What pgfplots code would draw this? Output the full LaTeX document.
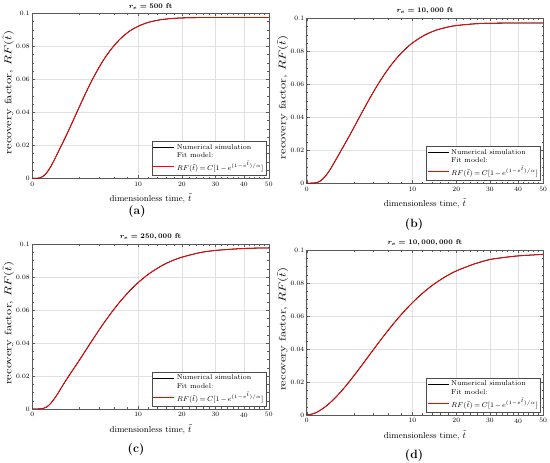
\documentclass[border=0pt]{standalone}
\usepackage{pgfplots}
\pgfplotsset{compat=1.18}
\usepackage{pgfplotstable}
\usepackage{amsmath,bm}

% t = dimensionless time, rf = recovery factor;
% the x axis is drawn on a square-root scale
\pgfplotstableread{
t rf
0 0
0.05 0.00024
0.15 0.00231
0.3 0.00693
0.5 0.01317
0.76 0.0200
1.0 0.0253
1.3 0.03136
1.76 0.03974
2.2 0.04671
2.7 0.0536
3.25 0.0601
4.0 0.0674
4.8 0.0736
5.85 0.0798
7 0.0848
8.5 0.0893
10 0.0921
12 0.09446
14.5 0.09601
17 0.09676
20 0.09719
25 0.09742
30 0.09748
40 0.0975
50 0.0975
}\dataA

\pgfplotstableread{
t rf
0 0
0.1 0.00049
0.25 0.00296
0.48 0.0081
0.8 0.0151
1.16 0.02161
1.6 0.02835
2.1 0.03524
2.7 0.04256
3.4 0.04999
4.2 0.05723
5.2 0.0647
6.4 0.07183
8 0.07895
10 0.08508
12.5 0.0899
15 0.09282
18 0.09481
20 0.0956
25 0.09662
30 0.09699
40 0.09717
50 0.0972
}\dataB

\pgfplotstableread{
t rf
0 0
0.1 0.00028
0.25 0.00232
0.5 0.00759
0.8 0.01376
1.2 0.02015
1.7 0.0264
2.3 0.0330
2.95 0.0393
3.8 0.04645
4.6 0.05223
5.6 0.05845
6.8 0.06466
8.2 0.07057
10 0.07654
12.2 0.0820
15 0.08687
17.5 0.08988
20 0.0920
25 0.09471
30 0.0961
40 0.09729
50 0.09764
}\dataC

\pgfplotstableread{
t rf
0 0
0.03 0.00062
0.12 0.00215
0.35 0.00553
0.7 0.01007
1.1 0.01472
1.6 0.0200
2.3 0.02658
3.0 0.03242
4.0 0.03976
5.0 0.04613
6.2 0.05271
7.66 0.0595
9 0.06471
10.5 0.06966
12.5 0.07504
14.86 0.0800
17.5 0.08426
20 0.0873
25 0.09146
30 0.09423
35 0.0955
40 0.09643
50 0.09737
}\dataD

\pgfplotsset{
  rfax/.style={
    scale only axis,
    width=236.5pt, height=165pt,
    xmin=0, xmax=7.0711, ymin=0, ymax=0.1,
    xtick={0,3.1623,4.4721,5.4772,6.3246,7.0711},
    xticklabels={0,10,20,30,40,50},
    minor xtick={1.4142,2,2.4495,2.8284,3.4641,3.7417,4,4.2426,4.6904,4.899,5.099,5.2915,5.6569,5.831,6,6.1644,6.4807,6.6332,6.7823,6.9282},
    ytick={0,0.02,0.04,0.06,0.08,0.1},
    yticklabels={0,0.02,0.04,0.06,0.08,0.1},
    scaled y ticks=false,
    minor y tick num=3,
    xtick pos=both, ytick pos=both,
    tick align=inside,
    major tick length=3pt, minor tick length=1.6pt,
    every tick/.style={black!65, line width=0.4pt},
    axis line style={black!65, line width=0.5pt},
    grid=major,
    major grid style={black!12, line width=0.4pt},
    tick label style={font=\fontsize{6.7}{7}\selectfont},
    xticklabel style={yshift=0pt},
    yticklabel style={xshift=1pt},
    title style={at={(0.5,1)}, anchor=south, inner sep=0.5pt, yshift=-2.5pt,
      font=\fontsize{7}{7.5}\selectfont\bfseries\boldmath},
    xlabel={dimensionless time, $\tilde{t}$},
    ylabel={\scalebox{1.3}[1]{recovery factor, $RF(\tilde{t})$}},
    xlabel style={at={(0.5,0)}, anchor=center, yshift=-20.3pt,
      font=\fontsize{8.7}{9}\selectfont},
    ylabel style={at={(0,0.52)}, anchor=center, yshift=24pt,
      font=\fontsize{9.6}{10}\selectfont},
    legend style={at={(0.99,0.018)}, anchor=south east,
      font=\fontsize{7}{7.5}\selectfont, draw=black!70, line width=0.4pt,
      inner sep=0.8pt, row sep=-1.8pt, fill=white},
    legend cell align=left,
    legend image code/.code={\draw[##1] (0pt,0pt) -- (21pt,0pt);},
  },
  simline/.style={black, line width=0.8pt, smooth},
  fitline/.style={red, line width=0.8pt, smooth},
}

\newcommand{\fitlabel}{\medmuskip=2mu\thickmuskip=3mu$RF(\tilde{t}) = C[1 - e^{(1-e^{\tilde{t}})/\alpha}]$}

\begin{document}
\begin{tikzpicture}
\path[use as bounding box] (0pt,0pt) rectangle (550pt,463pt);

% (a)
\begin{axis}[rfax, at={(32.3pt,284.7pt)}, anchor=south west,
  title={$r_e = 500$ ft}]
\addplot[simline] table[x expr={sqrt(\thisrow{t})}, y=rf] {\dataA};
\addlegendentry{Numerical simulation}
\addlegendimage{empty legend}
\addlegendentry{Fit model:}
\addplot[fitline] table[x expr={sqrt(\thisrow{t})}, y=rf] {\dataA};
\addlegendentry{\fitlabel}
\end{axis}
\node[font=\fontsize{12}{12}\selectfont\bfseries] at (137pt,251pt) {(a)};

% (b)
\begin{axis}[rfax, at={(306.7pt,279.7pt)}, anchor=south west,
  title={$r_e = 10,000$ ft}]
\addplot[simline] table[x expr={sqrt(\thisrow{t})}, y=rf] {\dataB};
\addlegendentry{Numerical simulation}
\addlegendimage{empty legend}
\addlegendentry{Fit model:}
\addplot[fitline] table[x expr={sqrt(\thisrow{t})}, y=rf] {\dataB};
\addlegendentry{\fitlabel}
\end{axis}
\node[font=\fontsize{12}{12}\selectfont\bfseries] at (414pt,238pt) {(b)};

% (c)
\begin{axis}[rfax, at={(32.3pt,54pt)}, anchor=south west,
  title={$r_e = 250,000$ ft}]
\addplot[simline] table[x expr={sqrt(\thisrow{t})}, y=rf] {\dataC};
\addlegendentry{Numerical simulation}
\addlegendimage{empty legend}
\addlegendentry{Fit model:}
\addplot[fitline] table[x expr={sqrt(\thisrow{t})}, y=rf] {\dataC};
\addlegendentry{\fitlabel}
\end{axis}
\node[font=\fontsize{12}{12}\selectfont\bfseries] at (136pt,13pt) {(c)};

% (d)
\begin{axis}[rfax, at={(306.7pt,48pt)}, anchor=south west,
  title={$r_e = 10,000,000$ ft}]
\addplot[simline] table[x expr={sqrt(\thisrow{t})}, y=rf] {\dataD};
\addlegendentry{Numerical simulation}
\addlegendimage{empty legend}
\addlegendentry{Fit model:}
\addplot[fitline] table[x expr={sqrt(\thisrow{t})}, y=rf] {\dataD};
\addlegendentry{\fitlabel}
\end{axis}
\node[font=\fontsize{12}{12}\selectfont\bfseries] at (414pt,7pt) {(d)};
\end{tikzpicture}
\end{document}
